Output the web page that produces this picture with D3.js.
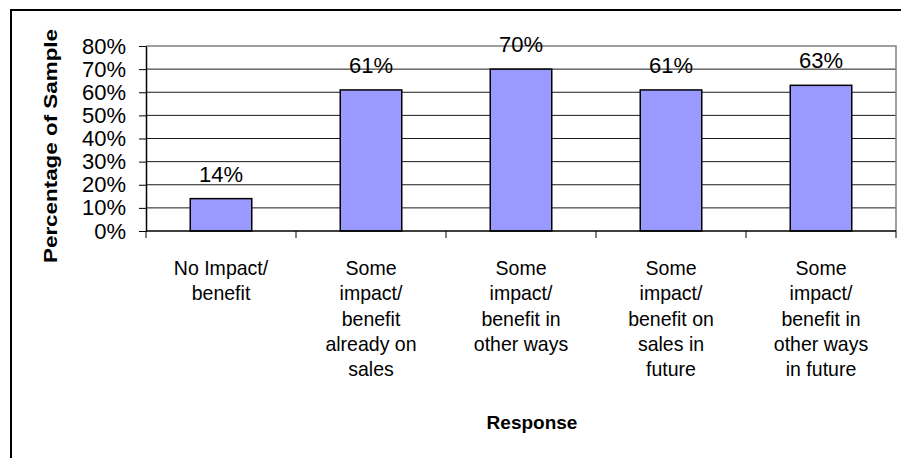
<!DOCTYPE html>
<html>
<head>
<meta charset="utf-8">
<script src="https://cdn.jsdelivr.net/npm/d3@7"></script>
<style>
  body { margin: 0; background: #fff; }
  svg { display: block; }
  text { font-family: "Liberation Sans", Arial, Helvetica, sans-serif; fill: #000; }
</style>
</head>
<body>
<svg id="chart" width="901" height="458"></svg>
<script>
// Survey responses: share of sample reporting each kind of impact/benefit
const categories = [
  "No Impact/ benefit",
  "Some impact/ benefit already on sales",
  "Some impact/ benefit in other ways",
  "Some impact/ benefit on sales in future",
  "Some impact/ benefit in other ways in future"
];
const categoryLines = [
  ["No Impact/", "benefit"],
  ["Some", "impact/", "benefit", "already on", "sales"],
  ["Some", "impact/", "benefit in", "other ways"],
  ["Some", "impact/", "benefit on", "sales in", "future"],
  ["Some", "impact/", "benefit in", "other ways", "in future"]
];
const values = [14, 61, 70, 61, 63];
const yTicks = [0, 10, 20, 30, 40, 50, 60, 70, 80];
const yTitle = "Percentage of Sample";
const xTitle = "Response";

const svg = d3.select("#chart");
const W = 901, H = 458;
const plot = { left: 146, right: 896, top: 46, bottom: 231 };

// chart frame
svg.append("rect")
  .attr("x", 11).attr("y", 10)
  .attr("width", W).attr("height", H)
  .attr("fill", "#fff").attr("stroke", "#000").attr("stroke-width", 2);

const x = d3.scaleBand().domain(categories).range([plot.left, plot.right]);
const y = d3.scaleLinear().domain([0, 80]).range([plot.bottom, plot.top]);
const bw = x.bandwidth();

// horizontal gridlines
svg.append("g").selectAll("line")
  .data(yTicks.filter(t => t > 0 && t < 80))
  .join("line")
  .attr("x1", plot.left).attr("x2", plot.right)
  .attr("y1", d => y(d)).attr("y2", d => y(d))
  .attr("stroke", "#1a1a1a").attr("stroke-width", 1);

// plot area outline (top and right)
svg.append("path")
  .attr("d", `M${plot.left},${y(80)}H${plot.right}V${y(0)}`)
  .attr("fill", "none").attr("stroke", "#808080").attr("stroke-width", 1.5);

// bars
svg.append("g").selectAll("rect")
  .data(values)
  .join("rect")
  .attr("x", (d, i) => x(categories[i]) + bw * 0.295)
  .attr("width", bw * 0.41)
  .attr("y", d => y(d))
  .attr("height", d => y(0) - y(d))
  .attr("fill", "#9999FF")
  .attr("stroke", "#000").attr("stroke-width", 1.5);

// value labels
svg.append("g").selectAll("text")
  .data(values)
  .join("text")
  .attr("x", (d, i) => x(categories[i]) + bw / 2)
  .attr("y", d => y(d) - 17)
  .attr("text-anchor", "middle")
  .style("font-size", "22px")
  .text(d => d + "%");

// y axis
const yAxis = svg.append("g")
  .attr("transform", `translate(${plot.left},0)`)
  .call(d3.axisLeft(y).tickValues(yTicks).tickSize(7).tickSizeOuter(0)
    .tickPadding(13).tickFormat(d => d + "%"));
yAxis.select(".domain").attr("stroke", "#000").attr("stroke-width", 1.5);
yAxis.selectAll(".tick line").attr("stroke", "#000");
yAxis.selectAll(".tick text")
  .style("font-family", "'Liberation Sans', Arial, sans-serif")
  .style("font-size", "22px").attr("fill", "#000");

// x axis baseline and category boundary ticks
svg.append("line")
  .attr("x1", plot.left).attr("x2", plot.right)
  .attr("y1", y(0)).attr("y2", y(0))
  .attr("stroke", "#000").attr("stroke-width", 1.5);
const bounds = categories.map(c => x(c)).concat([x(categories[categories.length - 1]) + bw]);
svg.append("g").selectAll("line")
  .data(bounds)
  .join("line")
  .attr("x1", d => d).attr("x2", d => d)
  .attr("y1", y(0)).attr("y2", y(0) + 7)
  .attr("stroke", "#000").attr("stroke-width", 1);

// category labels (slightly condensed)
const catG = svg.append("g");
categories.forEach((c, i) => {
  const t = catG.append("text")
    .attr("text-anchor", "middle")
    .attr("transform", `translate(${x(c) + bw / 2},275) scale(0.93,1)`)
    .style("font-size", "21px");
  categoryLines[i].forEach((line, j) => {
    t.append("tspan")
      .attr("x", 0)
      .attr("dy", j === 0 ? 0 : 25.3)
      .text(line);
  });
});

// axis titles
svg.append("text")
  .attr("transform", `translate(57,146) rotate(-90)`)
  .attr("text-anchor", "middle")
  .attr("textLength", 234).attr("lengthAdjust", "spacingAndGlyphs")
  .style("font-size", "19px").style("font-weight", "bold")
  .text(yTitle);

svg.append("text")
  .attr("x", (plot.left + plot.right) / 2 + 11)
  .attr("y", 429)
  .attr("text-anchor", "middle")
  .style("font-size", "19px").style("font-weight", "bold")
  .text(xTitle);
</script>
</body>
</html>
